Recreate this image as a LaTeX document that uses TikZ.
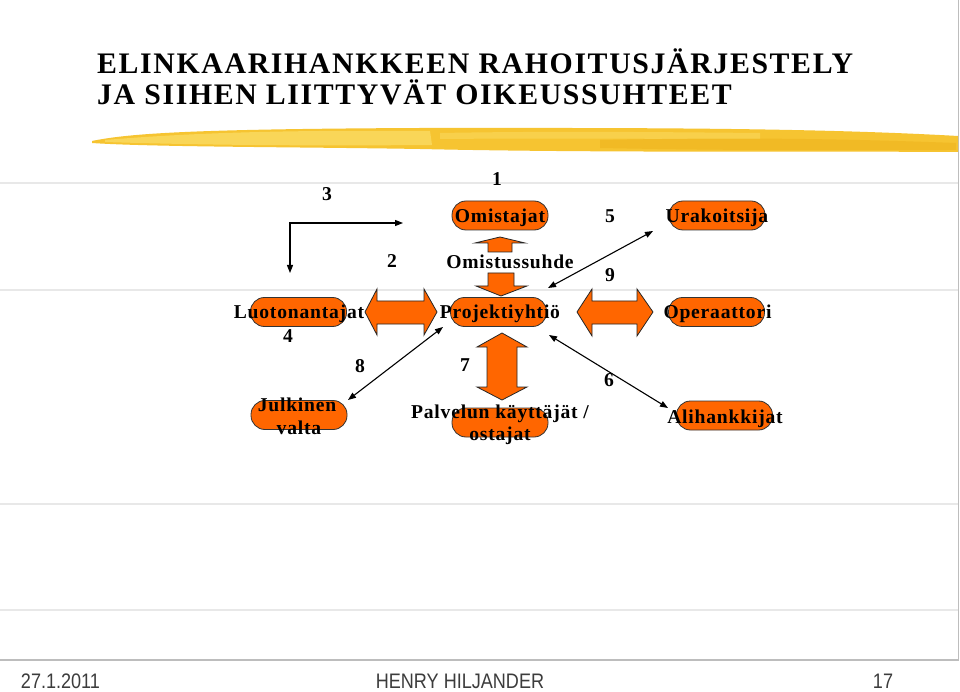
\documentclass[tikz,border=0pt]{standalone}
\usepackage{fontspec}
\usepackage{graphicx}
\setmainfont{Liberation Serif}
\newfontfamily\ttlfont[LetterSpace=5.5]{Liberation Serif}
\newfontfamily\dgfont[LetterSpace=4]{Liberation Serif}
\newfontfamily\footfont{Liberation Sans}
\usetikzlibrary{arrows.meta}
\definecolor{orng}{HTML}{FF6600}
\definecolor{gridgray}{HTML}{E8E8E8}
\definecolor{edgegray}{HTML}{BDBDBD}
\definecolor{foot}{HTML}{3C3C3C}
\definecolor{brushA}{HTML}{F6C431}
\definecolor{brushB}{HTML}{FBDD66}
\definecolor{brushC}{HTML}{EEB41E}
\tikzset{
  pill/.style={draw=black!80, line width=0.8pt, fill=orng, rounded corners=14pt,
    minimum width=96pt, minimum height=29pt, inner sep=0pt},
  lbl/.style={anchor=base, inner sep=0pt, font=\dgfont\bfseries\fontsize{19.6}{22}\selectfont},
  num/.style={anchor=base, inner sep=0pt, font=\dgfont\bfseries\fontsize{19.6}{22}\selectfont},
  fat/.style={draw=black!85, line width=0.8pt, fill=orng, line join=miter},
  thin/.style={line width=1.1pt, {Triangle[length=8pt,width=6pt]}-{Triangle[length=8pt,width=6pt]}},
  ttl/.style={anchor=base west, inner sep=0pt, font=\ttlfont\bfseries\fontsize{29.8}{32}\selectfont},
  ft/.style={anchor=base, inner sep=0pt, text=foot, font=\footfont\fontsize{21}{24}\selectfont},
  grid/.style={draw=gridgray, line width=1.2pt}
}
\begin{document}
\begin{tikzpicture}[x=1pt,y=-1pt]
\useasboundingbox (0,0) rectangle (960,692);
\fill[white] (0,0) rectangle (960,692);
% faint table lines
\draw[grid] (0,183) -- (958,183);
\draw[grid] (0,290) -- (958,290);
\draw[grid] (0,504) -- (958,504);
\draw[grid] (0,610) -- (958,610);
\draw[draw=edgegray, line width=1.2pt] (0,660) -- (958.5,660) -- (958.5,0);
% title
\node[ttl] (t1) at (97,74) {ELINKAARIHANKKEEN RAHOITUSJÄRJESTELY};
\node[ttl] (t2) at (97,105) {JA SIIHEN LIITTYVÄT OIKEUSSUHTEET};
% brush stroke
\fill[brushA] (92,141) .. controls (130,133) and (200,129) .. (420,128) .. controls (600,128) and (800,127) .. (958,136) -- (958,152) .. controls (800,151) and (600,153) .. (420,149) .. controls (300,147) and (150,147) .. (92,143) -- cycle;
\fill[brushB, opacity=.75] (105,140) .. controls (200,132) and (300,130) .. (430,131) -- (432,145) .. controls (300,146) and (200,145) .. (105,142) -- cycle;
\fill[brushB, opacity=.5] (440,133) .. controls (550,131) and (650,132) .. (760,133) -- (760,139) .. controls (650,139) and (550,138) .. (440,139) -- cycle;
\fill[brushC, opacity=.6] (600,140) .. controls (750,137) and (850,139) .. (956,143) -- (956,150) .. controls (850,150) and (750,151) .. (600,148) -- cycle;
% fat arrows
\draw[fat] (500,237) -- (525,243) -- (512,243) -- (512,252) -- (488,252) -- (488,243) -- (475,243) -- cycle;
\draw[fat] (488,273) -- (514,273) -- (514,286) -- (527,286) -- (501,296) -- (476,286) -- (488,286) -- cycle;
\draw[fat] (502,333) -- (527,347) -- (517,347) -- (517,387) -- (527,387) -- (502,400) -- (477,387) -- (487,387) -- (487,347) -- (477,347) -- cycle;
\draw[fat] (365,312) -- (377,289) -- (377,301) -- (424,301) -- (424,289) -- (437,312) -- (424,335) -- (424,324) -- (377,324) -- (377,335) -- cycle;
\draw[fat] (577,312) -- (592,289) -- (592,301) -- (637,301) -- (637,289) -- (653,312) -- (637,336) -- (637,324) -- (592,324) -- (592,336) -- cycle;
% boxes
\node[pill] (omB) at (500,215.5) {};
\node[pill] (urB) at (717,215.5) {};
\node[pill] (prB) at (498.5,312) {};
\node[pill] (luB) at (298.5,312) {};
\node[pill] (opB) at (716.5,312) {};
\node[pill] (juB) at (299,415) {};
\node[pill] (paB) at (500,422.5) {};
\node[pill] (alB) at (724.5,415.5) {};
% texts
\node[lbl] (om) at (500,223) {Omistajat};
\node[lbl] (ur) at (717,223) {Urakoitsija};
\node[lbl] (pr) at (500,318) {Projektiyhtiö};
\node[lbl] (lu) at (299,318.5) {Luotonantajat};
\node[lbl] (op) at (717.5,319) {Operaattori};
\node[lbl] (al) at (725,423) {Alihankkijat};
\node[lbl] (ju1) at (297,411.5) {Julkinen};
\node[lbl] (ju2) at (299,434) {valta};
\node[lbl] (pa1) at (500,418) {Palvelun käyttäjät /};
\node[lbl] (pa2) at (500,440) {ostajat};
\node[lbl] (os) at (510,269) {Omistussuhde};
% numbers
\node[num] (n1) at (497,186) {1};
\node[num] (n2) at (392,268) {2};
\node[num] (n3) at (327,201) {3};
\node[num] (n4) at (288,342) {4};
\node[num] (n5) at (610,223) {5};
\node[num] (n6) at (609,386) {6};
\node[num] (n7) at (465,371) {7};
\node[num] (n8) at (360,372) {8};
\node[num] (n9) at (610,282) {9};
% thin arrows
\coordinate (c3a) at (403,223);
\coordinate (c3b) at (290,273);
\draw[thin] (c3a) -| (c3b);
\coordinate (c5a) at (548,288);
\coordinate (c5b) at (653,231);
\draw[thin] (c5a) -- (c5b);
\coordinate (c6a) at (549,335);
\coordinate (c6b) at (668,408);
\draw[thin] (c6a) -- (c6b);
\coordinate (c8a) at (443,327);
\coordinate (c8b) at (348,400);
\draw[thin] (c8a) -- (c8b);
% footer
\node[ft] (f1) at (60.5,688) {\scalebox{0.86}[1]{27.1.2011}};
\node[ft] (f2) at (460,688) {\scalebox{0.86}[1]{HENRY HILJANDER}};
\node[ft] (f3) at (883,688) {\scalebox{0.86}[1]{17}};
\end{tikzpicture}
\end{document}
